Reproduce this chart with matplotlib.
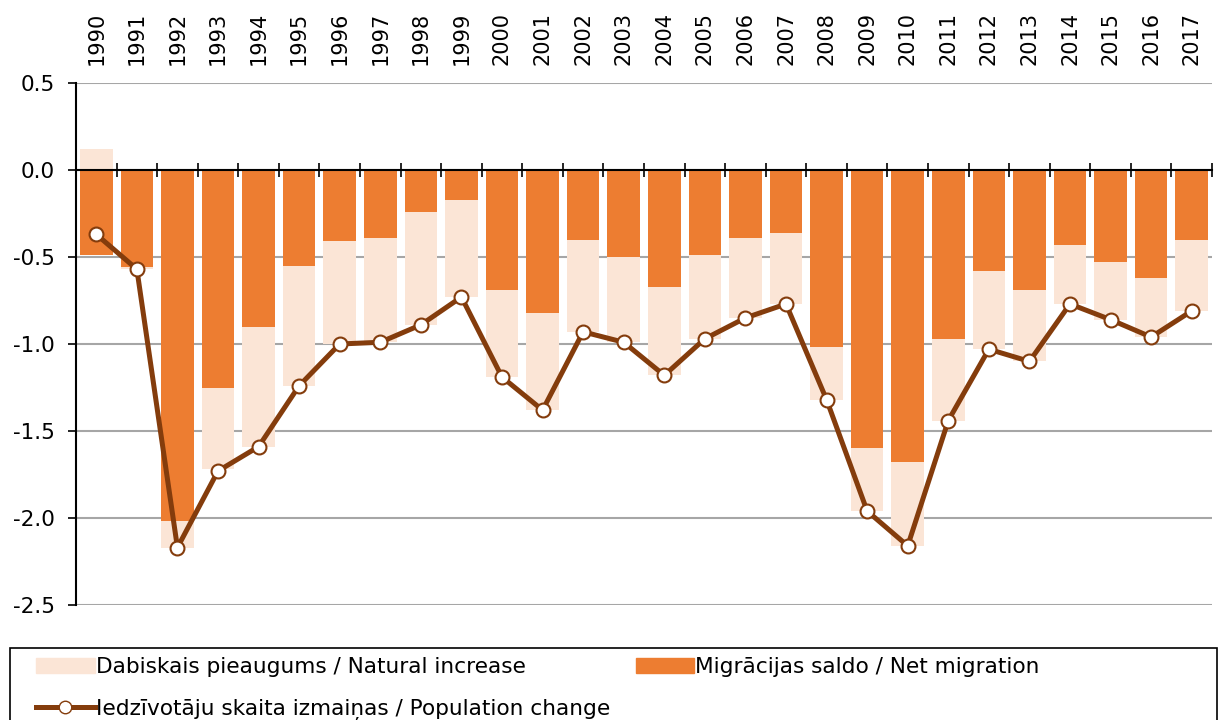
import numpy as np
import matplotlib
matplotlib.use("Agg")
import matplotlib.pyplot as plt
from matplotlib.lines import Line2D
from matplotlib.patches import Patch, Rectangle

NAT_C = "#FBE5D6"
MIG_C = "#ED7D31"
LINE_C = "#843C0C"

plt.rcParams.update({"font.family": "DejaVu Sans", "font.size": 15})

# ---- data -----------------------------------------------------------------
years = list(range(1990, 2018))
net_migration = [-0.49, -0.56, -2.02, -1.25, -0.90, -0.55, -0.41, -0.39, -0.24, -0.17,
                 -0.69, -0.82, -0.40, -0.50, -0.67, -0.49, -0.39, -0.36, -1.02, -1.60,
                 -1.68, -0.97, -0.58, -0.69, -0.43, -0.53, -0.62, -0.40]
natural_increase = [0.12, -0.01, -0.15, -0.47, -0.69, -0.69, -0.59, -0.60, -0.65, -0.56,
                    -0.50, -0.56, -0.53, -0.49, -0.51, -0.48, -0.46, -0.41, -0.30, -0.36,
                    -0.48, -0.47, -0.45, -0.41, -0.34, -0.33, -0.34, -0.41]
pop_change = [-0.37, -0.57, -2.17, -1.73, -1.59, -1.24, -1.00, -0.99, -0.89, -0.73,
              -1.19, -1.38, -0.93, -0.99, -1.18, -0.97, -0.85, -0.77, -1.32, -1.96,
              -2.16, -1.44, -1.03, -1.10, -0.77, -0.86, -0.96, -0.81]
y_ticks = [0.5, 0.0, -0.5, -1.0, -1.5, -2.0, -2.5]

# ---- figure ---------------------------------------------------------------
W, H = 1220, 720
fig = plt.figure(figsize=(W / 100, H / 100), dpi=100)
ax = fig.add_axes([76 / W, 1 - 605 / H, (1212 - 76) / W, (605 - 83) / H])

x = np.arange(len(years))
mig = np.array(net_migration)
nat = np.array(natural_increase)
nat_bottom = np.where(nat < 0, mig, 0)

ax.bar(x, mig, width=0.8, color=MIG_C, zorder=2)
ax.bar(x, nat, bottom=nat_bottom, width=0.8, color=NAT_C, zorder=2)
ax.plot(x, pop_change, "-o", color=LINE_C, lw=3.6, ms=10, mfc="white",
        mec=LINE_C, mew=1.5, zorder=4)

ax.set_xlim(-0.5, len(years) - 0.5)
ax.set_ylim(-2.5, 0.5)
ax.set_yticks(y_ticks)
ax.set_yticklabels([f"{v:.1f}" for v in y_ticks], fontsize=15.5)
ax.grid(axis="y", color="#A6A6A6", lw=1.5, zorder=0)
ax.tick_params(axis="y", length=6, width=1.2, direction="out", pad=9)

# category axis along zero line, year labels on top
ax.spines["bottom"].set_position(("data", 0))
ax.spines["bottom"].set_linewidth(1.5)
ax.spines["bottom"].set_zorder(3)
ax.set_xticks(np.arange(len(years) + 1) - 0.5)
ax.tick_params(axis="x", direction="inout", length=10, width=1.2, labelbottom=False)
for xi, yr in zip(x, years):
    ax.text(xi, 1 + 18 / 522, str(yr), transform=ax.get_xaxis_transform(), rotation=90,
            ha="center", va="bottom", fontsize=15)
for s in ("top", "right"):
    ax.spines[s].set_visible(False)
ax.spines["left"].set_linewidth(1.5)

# legend box (runs off the bottom edge like the original)
fig.patches.append(Rectangle((10 / W, -0.05), 1207 / W, 0.05 + 1 - 648 / H,
                             transform=fig.transFigure, fill=False,
                             edgecolor="black", lw=1.2))
handles = [Patch(color=NAT_C, label="Dabiskais pieaugums / Natural increase"),
           Line2D([], [], color=LINE_C, lw=3.6, marker="o", ms=9, mfc="white",
                  mec=LINE_C, label="Iedzīvotāju skaita izmaiņas / Population change"),
           Patch(color=MIG_C, label="Migrācijas saldo / Net migration")]
fig.legend(handles=handles, ncol=2, loc="upper left",
           bbox_to_anchor=(36 / W, 1 - 657 / H), frameon=False,
           fontsize=15.6, handlelength=2.7, handletextpad=0.05, borderaxespad=0,
           borderpad=0, labelspacing=1.0, columnspacing=1.2)

fig.savefig("out.png", dpi=100)
